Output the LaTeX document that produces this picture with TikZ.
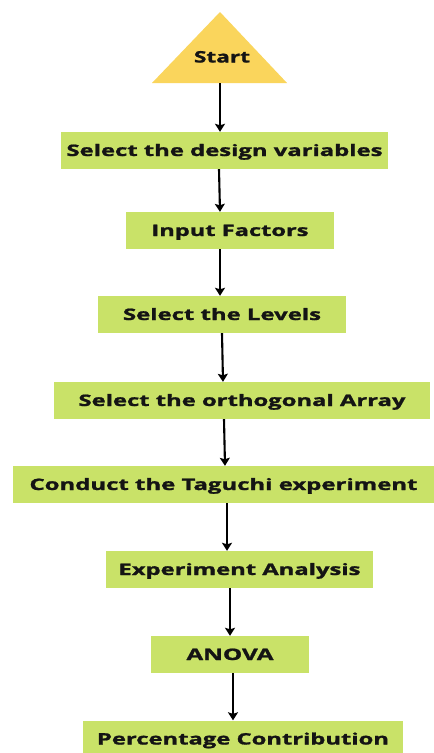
\documentclass[tikz,border=0pt]{standalone}
\usepackage{fontspec}
\setmainfont{Open Sans}[UprightFont={* Bold}, UprightFeatures={FakeBold=1.2}]
\usetikzlibrary{arrows.meta}
\definecolor{boxgreen}{RGB}{201,226,104}
\definecolor{startyellow}{RGB}{250,213,92}
\definecolor{txt}{RGB}{20,20,20}
\newcommand{\tw}[2]{\resizebox{#1}{\height}{#2}}
\begin{document}
\begin{tikzpicture}[x=1pt,y=-1pt,
  box/.style={fill=boxgreen, draw=none, inner sep=0pt, minimum height=37pt, text=txt,
    text height=11pt, text depth=0pt, font=\fontsize{15.8}{18}\selectfont},
  arr/.style={draw=black, line width=2.1pt, -{Stealth[length=8pt,width=10pt,inset=1.5pt]}}]
\useasboundingbox (0,0) rectangle (434,753);
\fill[white] (0,0) rectangle (434,753);
\begin{scope}
\clip (0,0) rectangle (434,753);
% start triangle
\fill[startyellow] (220,12) -- (287,83) -- (152,83) -- cycle;
\node[text=txt, font=\fontsize{15.8}{18}\selectfont, inner sep=0pt, text height=11pt, text depth=0pt] (start) at (222,57) {\tw{56pt}{Start}};
\coordinate (startbase) at (220,83);
% boxes
\node[box, minimum width=327pt] (b1) at (224.5,150.5) {\tw{316pt}{Select the design variables}};
\node[box, minimum width=208pt] (b2) at (230,230.5) {\tw{157pt}{Input Factors}};
\node[box, minimum width=248pt] (b3) at (222,314.5) {\tw{198pt}{Select the Levels}};
\node[box, minimum width=376pt] (b4) at (242,400.5) {\tw{327pt}{Select the orthogonal Array}};
\node[box, minimum width=421pt] (b5) at (223.5,484.5) {\tw{388pt}{Conduct the Taguchi experiment}};
\node[box, minimum width=267pt] (b6) at (239.5,569.5) {\tw{242pt}{Experiment Analysis}};
\node[box, minimum width=158pt] (b7) at (230,654.5) {\tw{87pt}{ANOVA}};
\node[box, minimum width=320pt] (b8) at (243,739) {\tw{292pt}{Percentage Contribution}};
% arrows
\draw[arr] (startbase) -- (b1.north -| 220,0);
\draw[arr] (b1.south -| 219,0) -- (b2.north -| 220,0);
\draw[arr] (b2.south -| 220,0) -- (b3.north -| 220,0);
\draw[arr] (b3.south -| 222,0) -- (b4.north -| 223,0);
\draw[arr] (b4.south -| 224,0) -- (b5.north -| 225,0);
\draw[arr] (b5.south -| 227,0) -- (b6.north -| 227,0);
\draw[arr] (b6.south -| 230,0) -- (b7.north -| 230,0);
\draw[arr] (b7.south -| 233,0) -- (b8.north -| 233,0);
\end{scope}
\end{tikzpicture}
\end{document}
